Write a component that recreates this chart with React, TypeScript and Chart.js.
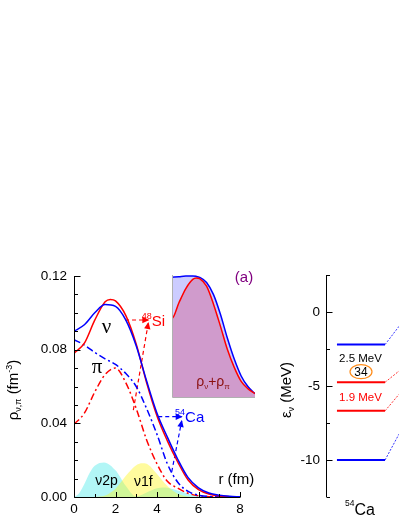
import React, { useEffect, useRef } from "react";
import { Chart, registerables } from "chart.js";

Chart.register(...registerables);

const SANS = '"Liberation Sans", Arial, Helvetica, sans-serif';
const SERIF = '"Liberation Serif", "Times New Roman", serif';

// ---------- main panel: densities (fm^-3) vs r (fm) ----------
const rGrid = [0, 0.5, 1, 1.5, 2, 2.5, 3, 3.5, 4, 4.5, 5, 5.5, 6, 6.5, 7, 7.5, 8];
const rhoNuCa54 = [0.09, 0.0935, 0.1, 0.1045, 0.1035, 0.096, 0.082, 0.063, 0.0455, 0.0325, 0.0205, 0.0105, 0.005, 0.0022, 0.001, 0.0004, 0.0001];
const rhoPiCa54 = [0.0855, 0.0825, 0.0785, 0.075, 0.072, 0.067, 0.06, 0.048, 0.034, 0.018, 0.008, 0.003, 0.001, 0.0003, 0.0001, 0, 0];
const rhoPiSi48 = [0.0395, 0.0455, 0.057, 0.0665, 0.07, 0.062, 0.048, 0.031, 0.018, 0.0085, 0.0048, 0.002, 0.0007, 0.0002, 0, 0, 0];
const rNuSi48 = [0, 0.5, 1, 1.5, 1.75, 2, 2.5, 3, 3.5, 4, 4.5, 5, 5.5, 6, 6.5, 7, 7.5, 8];
const rhoNuSi48 = [0.078, 0.0835, 0.096, 0.106, 0.1073, 0.1065, 0.0985, 0.083, 0.062, 0.044, 0.0305, 0.019, 0.0092, 0.004, 0.0016, 0.0006, 0.0002, 0];
const r2p = [0, 0.25, 0.5, 0.75, 1, 1.45, 2, 2.5, 3, 3.5, 4, 4.3, 4.5, 5, 5.5, 6, 6.5, 7];
const rho2p = [0, 0.002, 0.007, 0.013, 0.017, 0.0188, 0.0145, 0.006, 0.0003, 0.0025, 0.0048, 0.0052, 0.005, 0.0035, 0.0018, 0.0007, 0.0002, 0];
const r1f = [1, 1.5, 2, 2.5, 3, 3.3, 3.5, 4, 4.5, 5, 5.5, 6];
const rho1f = [0, 0.0008, 0.0045, 0.0115, 0.0172, 0.0183, 0.018, 0.0125, 0.006, 0.0018, 0.0003, 0];
const xTicksMain = [0, 2, 4, 6, 8];
const yTicksMain = [0, 0.04, 0.08, 0.12];

// dashed pointer arrows to the labels
const arrowSiHX = [2.46, 3.58];
const arrowSiHY = [0.0961, 0.0961];
const arrowSiDX = [2.86, 3.58];
const arrowSiDY = [0.0472, 0.0945];
const arrowCaHX = [4.06, 5.19];
const arrowCaHY = [0.0436, 0.0436];
const arrowCaDX = [4.71, 5.19];
const arrowCaDY = [0.0137, 0.0413];

// ---------- inset: rho_nu + rho_pi ----------
const rInset = [0, 0.5, 1, 1.5, 1.75, 2, 2.5, 3, 3.5, 4, 4.5, 5, 5.5, 6];
const sumCa54 = [0.1766, 0.1775, 0.1785, 0.1785, 0.178, 0.1765, 0.169, 0.151, 0.122, 0.087, 0.056, 0.031, 0.015, 0.005];
const sumSi48 = [0.116, 0.139, 0.16, 0.1735, 0.1757, 0.1745, 0.1635, 0.137, 0.1046, 0.0703, 0.0437, 0.023, 0.012, 0.005];

// ---------- right panel: single-particle levels of 54Ca ----------
const levelEnergies = [-2.2, -4.75, -6.68, -10.0];
const levelColors = ["#0000ff", "#ff0000", "#ff0000", "#0000ff"];
const levelX = [1.1, 5.93];
const connectorX = [5.93, 7.33];
const connectorEnd = [-0.97, -3.99, -5.56, -8.25];
const yTicksRight = [-10, -5, 0];

const pts = (xs: number[], ys: number[]) => xs.map((x, i) => ({ x, y: ys[i] }));

type Part = { t: string; size: number; color?: string; dy?: number; family?: string };
function drawParts(ctx: CanvasRenderingContext2D, x: number, y: number, parts: Part[], align = "center", rot = 0, color = "#000") {
  ctx.save();
  ctx.translate(x, y);
  if (rot) ctx.rotate(rot);
  ctx.textBaseline = "alphabetic";
  ctx.textAlign = "left";
  let total = 0;
  const widths = parts.map((p) => {
    ctx.font = `${p.size}px ${p.family || SANS}`;
    const w = ctx.measureText(p.t).width;
    total += w;
    return w;
  });
  let cx = align === "center" ? -total / 2 : align === "right" ? -total : 0;
  parts.forEach((p, i) => {
    ctx.font = `${p.size}px ${p.family || SANS}`;
    ctx.fillStyle = p.color || color;
    ctx.fillText(p.t, cx, p.dy || 0);
    cx += widths[i];
  });
  ctx.restore();
}

const arrowPlugin = {
  id: "arrowHeads",
  afterDatasetsDraw(chart: any) {
    const ctx = chart.ctx;
    chart.data.datasets.forEach((ds: any, i: number) => {
      if (!ds.arrow) return;
      const d = chart.getDatasetMeta(i).data;
      const a = d[d.length - 2], b = d[d.length - 1];
      const ang = Math.atan2(b.y - a.y, b.x - a.x);
      ctx.save();
      ctx.translate(b.x, b.y);
      ctx.rotate(ang);
      ctx.fillStyle = ds.borderColor;
      ctx.beginPath();
      ctx.moveTo(1, 0);
      ctx.lineTo(-6, -3.2);
      ctx.lineTo(-6, 3.2);
      ctx.closePath();
      ctx.fill();
      ctx.restore();
    });
  },
};

function makeMain(canvas: HTMLCanvasElement) {
  const line = (data: any, color: string, dash: number[] = [], w = 1.5, extra: any = {}) => ({
    data, borderColor: color, borderWidth: w, borderDash: dash, showLine: true, pointRadius: 0,
    cubicInterpolationMode: "monotone", fill: false, ...extra,
  });
  const DD = [7, 3, 2, 3];
  const plugin = {
    id: "mainDeco",
    afterDraw(chart: any) {
      const { ctx, chartArea: ca } = chart;
      const xs = chart.scales.x, ys = chart.scales.y;
      const X = (v: number) => xs.getPixelForValue(v);
      const Y = (v: number) => ys.getPixelForValue(v);
      ctx.save();
      ctx.strokeStyle = "#000";
      ctx.lineWidth = 1;
      ctx.beginPath();
      const L = Math.round(ca.left) + 0.5, B = Math.round(ca.bottom) + 0.5;
      ctx.moveTo(L, ca.top);
      ctx.lineTo(L, B);
      ctx.lineTo(ca.right, B);
      for (let k = 0; k <= 12; k++) {
        const v = k * 0.01;
        const p = Math.round(Y(v)) + 0.5;
        ctx.moveTo(L, p);
        ctx.lineTo(L + (k % 4 === 0 ? 6 : 3.5), p);
      }
      for (let k = 0; k <= 8; k++) {
        const p = Math.round(X(k)) + 0.5;
        ctx.moveTo(p, B);
        ctx.lineTo(p, B - (k % 2 === 0 ? 5.5 : 3.5));
      }
      ctx.stroke();
      ctx.restore();

      drawParts(ctx, 18, 390, [
        { t: "ρ", size: 15 }, { t: "ν,π", size: 9, dy: 3 }, { t: " (fm", size: 15 },
        { t: "-3", size: 9, dy: -6 }, { t: ")", size: 15 },
      ], "center", -Math.PI / 2);
      drawParts(ctx, X(1.57), Y(0.089), [{ t: "ν", size: 21, family: SERIF }]);
      drawParts(ctx, X(1.11), Y(0.0673), [{ t: "π", size: 21, family: SERIF }]);
      drawParts(ctx, X(3.26), Y(0.0931), [{ t: "48", size: 9, dy: -7 }, { t: "Si", size: 15 }], "left", 0, "#ff0000");
      drawParts(ctx, X(4.87), Y(0.0407), [{ t: "54", size: 9, dy: -7 }, { t: "Ca", size: 15 }], "left", 0, "#0000ff");
      drawParts(ctx, X(6.96), Y(0.0071), [{ t: "r (fm)", size: 15 }], "left");
      drawParts(ctx, X(1.57), Y(0.0065), [{ t: "ν2p", size: 14 }]);
      drawParts(ctx, X(3.34), Y(0.0062), [{ t: "ν1f", size: 14 }]);
    },
  };
  return new Chart(canvas, {
    type: "scatter",
    data: {
      datasets: [
        line(pts(rGrid, rhoNuCa54), "#0000ff"),
        line(pts(rNuSi48, rhoNuSi48), "#ff0000"),
        line(pts(rGrid, rhoPiCa54), "#0000ff", DD),
        line(pts(rGrid, rhoPiSi48), "#ff0000", DD),
        line(pts(arrowSiHX, arrowSiHY), "#ff0000", [4, 3], 1.2, { arrow: true, cubicInterpolationMode: "default", tension: 0 }),
        line(pts(arrowSiDX, arrowSiDY), "#ff0000", [4, 3], 1.2, { arrow: true, cubicInterpolationMode: "default", tension: 0 }),
        line(pts(arrowCaHX, arrowCaHY), "#0000ff", [4, 3], 1.2, { arrow: true, cubicInterpolationMode: "default", tension: 0 }),
        line(pts(arrowCaDX, arrowCaDY), "#0000ff", [4, 3], 1.2, { arrow: true, cubicInterpolationMode: "default", tension: 0 }),
        line(pts(r1f, rho1f), "rgba(0,0,0,0)", [], 0, { fill: "origin", backgroundColor: "rgba(255,245,0,0.38)" }),
        line(pts(r2p, rho2p), "rgba(0,0,0,0)", [], 0, { fill: "origin", backgroundColor: "rgba(0,225,225,0.3)" }),
      ],
    },
    options: {
      responsive: false,
      animation: false,
      devicePixelRatio: 1,
      layout: { padding: { left: 0, top: 276, right: 159, bottom: 0 } },
      plugins: { legend: { display: false }, tooltip: { enabled: false } },
      scales: {
        x: {
          type: "linear", min: 0, max: 8,
          grid: { display: false, drawTicks: false }, border: { display: false },
          afterBuildTicks: (s: any) => { s.ticks = xTicksMain.map((v) => ({ value: v })); },
          afterFit: (s: any) => { s.height = 19; },
          ticks: { color: "#000", padding: 4, maxRotation: 0, autoSkip: false, font: { size: 13.5, family: SANS }, callback: (v: any) => String(v) },
        },
        y: {
          type: "linear", min: 0, max: 0.12,
          grid: { display: false, drawTicks: false }, border: { display: false },
          afterBuildTicks: (s: any) => { s.ticks = yTicksMain.map((v) => ({ value: v })); },
          afterFit: (s: any) => { s.width = 74; },
          ticks: { color: "#000", padding: 7, autoSkip: false, font: { size: 13.5, family: SANS }, callback: (v: any) => Number(v).toFixed(2) },
        },
      },
    } as any,
    plugins: [plugin, arrowPlugin],
  });
}

function makeInset(canvas: HTMLCanvasElement) {
  const plugin = {
    id: "insetDeco",
    afterDraw(chart: any) {
      const { ctx, chartArea: ca } = chart;
      ctx.save();
      ctx.strokeStyle = "#b0b0b0";
      ctx.lineWidth = 1;
      ctx.beginPath();
      ctx.moveTo(Math.round(ca.left) + 0.5, ca.top);
      ctx.lineTo(Math.round(ca.left) + 0.5, Math.round(ca.bottom) + 0.5);
      ctx.lineTo(ca.right, Math.round(ca.bottom) + 0.5);
      ctx.stroke();
      ctx.restore();
      drawParts(ctx, 244, 282, [{ t: "(a)", size: 15 }], "center", 0, "#800080");
      drawParts(ctx, 213, 386, [
        { t: "ρ", size: 14 }, { t: "ν", size: 8, dy: 3 }, { t: "+", size: 14 },
        { t: "ρ", size: 14 }, { t: "π", size: 8, dy: 3 },
      ], "center", 0, "#8b1010");
    },
  };
  return new Chart(canvas, {
    type: "scatter",
    data: {
      datasets: [
        { data: [{ x: 0, y: 0 }, ...pts(rInset, sumSi48)], borderColor: "#ff0000", borderWidth: 1.5, showLine: true, pointRadius: 0,
          cubicInterpolationMode: "monotone", fill: "origin", backgroundColor: "rgba(215,40,85,0.3)" },
        { data: pts(rInset, sumCa54), borderColor: "#0000ff", borderWidth: 1.5, showLine: true, pointRadius: 0,
          cubicInterpolationMode: "monotone", fill: "origin", backgroundColor: "rgba(0,0,255,0.2)" },
      ],
    },
    options: {
      responsive: false,
      animation: false,
      devicePixelRatio: 1,
      layout: { padding: { left: 172, top: 275, right: 144, bottom: 119 } },
      plugins: { legend: { display: false }, tooltip: { enabled: false } },
      scales: {
        x: { type: "linear", min: 0, max: 6, display: false },
        y: { type: "linear", min: 0, max: 0.18, display: false },
      },
    } as any,
    plugins: [plugin],
  });
}

function makeRight(canvas: HTMLCanvasElement) {
  const datasets: any[] = [];
  levelEnergies.forEach((e, i) => {
    datasets.push({ data: pts(levelX, [e, e]), borderColor: levelColors[i], borderWidth: 2, showLine: true, pointRadius: 0 });
  });
  levelEnergies.forEach((e, i) => {
    datasets.push({ data: pts(connectorX, [e, connectorEnd[i]]), borderColor: levelColors[i], borderWidth: 0.8,
      borderDash: [2, 1.5], showLine: true, pointRadius: 0 });
  });
  const plugin = {
    id: "rightDeco",
    afterDraw(chart: any) {
      const { ctx, chartArea: ca } = chart;
      const ys = chart.scales.y;
      const L = Math.round(ca.left) + 0.5;
      ctx.save();
      ctx.strokeStyle = "#000";
      ctx.lineWidth = 1;
      ctx.beginPath();
      ctx.moveTo(L, ca.top);
      ctx.lineTo(L, ca.bottom);
      for (let k = 0; k <= 6; k++) {
        const v = 2.5 - k * 2.5;
        const p = Math.round(ys.getPixelForValue(v)) + 0.5;
        ctx.moveTo(L, p);
        ctx.lineTo(L + (k % 2 === 1 ? 6 : 3.5), p);
      }
      ctx.stroke();
      ctx.strokeStyle = "#ff8c1a";
      ctx.lineWidth = 1.2;
      ctx.beginPath();
      ctx.ellipse(361, 371.7, 11, 7, 0, 0, Math.PI * 2);
      ctx.stroke();
      ctx.restore();
      drawParts(ctx, 291, 390, [{ t: "ε", size: 15 }, { t: "ν", size: 9, dy: 3 }, { t: " (MeV)", size: 15 }], "center", -Math.PI / 2);
      drawParts(ctx, 360.5, 361.5, [{ t: "2.5 MeV", size: 11.5 }]);
      drawParts(ctx, 361, 376, [{ t: "34", size: 12 }]);
      drawParts(ctx, 360.5, 400.7, [{ t: "1.9 MeV", size: 11.5 }], "center", 0, "#ff0000");
      drawParts(ctx, 345, 514.5, [{ t: "54", size: 8.5, dy: -9 }, { t: "Ca", size: 16 }], "left");
    },
  };
  return new Chart(canvas, {
    type: "scatter",
    data: { datasets },
    options: {
      responsive: false,
      animation: false,
      devicePixelRatio: 1,
      layout: { padding: { left: 0, top: 275, right: 0, bottom: 19 } },
      plugins: { legend: { display: false }, tooltip: { enabled: false } },
      scales: {
        x: { type: "linear", min: 0, max: 7.33, display: false },
        y: {
          type: "linear", min: -12.5, max: 2.5,
          grid: { display: false, drawTicks: false }, border: { display: false },
          afterBuildTicks: (s: any) => { s.ticks = yTicksRight.map((v) => ({ value: v })); },
          afterFit: (s: any) => { s.width = 326; },
          ticks: { color: "#000", padding: 6, autoSkip: false, font: { size: 13.5, family: SANS }, callback: (v: any) => String(v) },
        },
      },
    } as any,
    plugins: [plugin],
  });
}

export default function App() {
  const c1 = useRef<HTMLCanvasElement>(null);
  const c2 = useRef<HTMLCanvasElement>(null);
  const c3 = useRef<HTMLCanvasElement>(null);
  useEffect(() => {
    const charts = [makeInset(c2.current!), makeMain(c1.current!), makeRight(c3.current!)];
    return () => charts.forEach((c) => c.destroy());
  }, []);
  const st: React.CSSProperties = { position: "absolute", left: 0, top: 0, width: 399, height: 516 };
  return (
    <div style={{ position: "fixed", left: 0, top: 0, width: 399, height: 516, background: "#fff", overflow: "hidden" }}>
      <canvas ref={c2} width={399} height={516} style={st} />
      <canvas ref={c1} width={399} height={516} style={st} />
      <canvas ref={c3} width={399} height={516} style={st} />
    </div>
  );
}
